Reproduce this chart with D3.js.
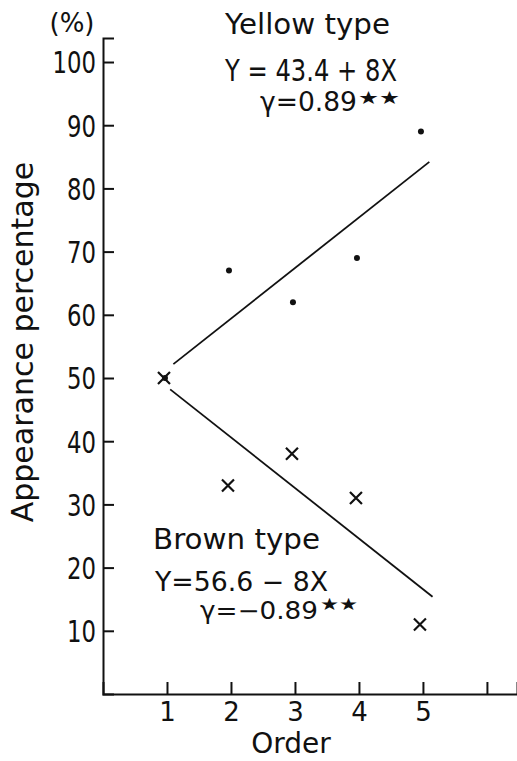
<!DOCTYPE html>
<html>
<head>
<meta charset="utf-8">
<script src="https://cdn.jsdelivr.net/npm/d3@7"></script>
<style>
  body { margin: 0; background: #fff; }
  text { font-family: "DejaVu Sans", sans-serif; fill: #111; }
</style>
</head>
<body>
<div id="grafico"></div>
<script>
// orden (X) y porcentaje de aparicion (Y)
const orden = [1, 2, 3, 4, 5];
const amarillo = [50, 67, 62, 69, 89];
const marron = [50, 33, 38, 31, 11];
const ticksX = [1, 2, 3, 4, 5, 6];
const etiquetasX = ["1", "2", "3", "4", "5", ""];
const ticksY = [10, 20, 30, 40, 50, 60, 70, 80, 90, 100];
// rectas de regresion: Y = a + bX, tramo dibujado
const rectaAmarillo = { a: 43.4, b: 8, desde: 1.1, hasta: 5.1 };
const rectaMarron = { a: 56.6, b: -8, desde: 1.05, hasta: 5.15 };

const ancho = 517, alto = 761;
const negro = "#111";

const x = d3.scaleLinear().domain([0, 6.47]).range([103, 517]);
const y = d3.scaleLinear().domain([0, 103.8]).range([694, 38]);

const $svg = d3.select("#grafico")
  .append("svg")
  .attr("width", ancho)
  .attr("height", alto);

// EJE Y
const ejeY = $svg.append("g")
  .attr("transform", `translate(${x(0)},0)`)
  .call(d3.axisLeft(y).tickValues(ticksY).tickSize(-11).tickPadding(7).tickFormat(d3.format("d")));
ejeY.select(".domain").attr("stroke", negro).attr("stroke-width", 2);
ejeY.selectAll(".tick line").attr("stroke", negro).attr("stroke-width", 2);
ejeY.selectAll(".tick text")
  .attr("font-size", 30)
  .attr("font-family", "DejaVu Sans, sans-serif")
  .attr("fill", negro)
  .attr("dy", "0.36em")
  .attr("textLength", d => String(d).length * 14.5)
  .attr("lengthAdjust", "spacingAndGlyphs");

// EJE X
const ejeX = $svg.append("g")
  .attr("transform", `translate(0,${y(0)})`)
  .call(d3.axisBottom(x).tickValues(ticksX).tickSize(-12).tickPadding(9)
    .tickFormat((d, i) => etiquetasX[i]));
ejeX.select(".domain").attr("stroke", negro).attr("stroke-width", 2);
ejeX.selectAll(".tick line").attr("stroke", negro).attr("stroke-width", 2);
ejeX.selectAll(".tick text")
  .attr("font-size", 26)
  .attr("font-family", "DejaVu Sans, sans-serif")
  .attr("fill", negro);

// TITULOS DE EJES
$svg.append("text")
  .attr("x", 72).attr("y", 32)
  .attr("text-anchor", "middle")
  .attr("font-size", 26)
  .text("(%)");

$svg.append("text")
  .attr("transform", `translate(33, 342) rotate(-90)`)
  .attr("text-anchor", "middle")
  .attr("font-size", 30)
  .text("Appearance percentage");

$svg.append("text")
  .attr("x", 291).attr("y", 753)
  .attr("text-anchor", "middle")
  .attr("font-size", 28)
  .text("Order");

// RECTAS DE REGRESION
const linea = d3.line().x(d => x(d[0])).y(d => y(d[1]));
[rectaAmarillo, rectaMarron].forEach(r => {
  $svg.append("path")
    .attr("d", linea([r.desde, r.hasta].map(v => [v, r.a + r.b * v])))
    .attr("fill", "none")
    .attr("stroke", negro)
    .attr("stroke-width", 1.8);
});

// PUNTOS AMARILLOS
$svg.append("g")
  .selectAll("circle")
  .data(orden.map((o, i) => [o, amarillo[i]]))
  .join("circle")
  .attr("cx", d => x(d[0]) - 2)
  .attr("cy", d => y(d[1]))
  .attr("r", 3)
  .attr("fill", negro);

// CRUCES MARRONES
const cruz = (cx, cy, s) => `M${cx - s},${cy - s}L${cx + s},${cy + s}M${cx - s},${cy + s}L${cx + s},${cy - s}`;
$svg.append("g")
  .selectAll("path")
  .data(orden.map((o, i) => [o, marron[i]]))
  .join("path")
  .attr("d", d => cruz(x(d[0]) - 3, y(d[1]), 6))
  .attr("stroke", negro)
  .attr("stroke-width", 2.2)
  .attr("fill", "none");

// ANOTACIONES
const anotar = (texto, px, py, tam, largo) => {
  const t = $svg.append("text")
    .attr("x", px).attr("y", py)
    .attr("font-size", tam)
    .text(texto);
  if (largo) t.attr("textLength", largo).attr("lengthAdjust", "spacingAndGlyphs");
  return t;
};

anotar("Yellow type", 225, 34, 28, 165);
anotar("Y = 43.4 + 8X", 225, 81, 30, 172);
anotar("γ=0.89", 260, 111, 27, 97);
anotar("★★", 358, 104, 18, 42);

anotar("Brown type", 153, 549, 28, 167);
anotar("Y=56.6 − 8X", 155, 591, 27, 173);
anotar("γ=−0.89", 200, 619, 24, 118);
anotar("★★", 320, 610, 17, 38);
</script>
</body>
</html>
